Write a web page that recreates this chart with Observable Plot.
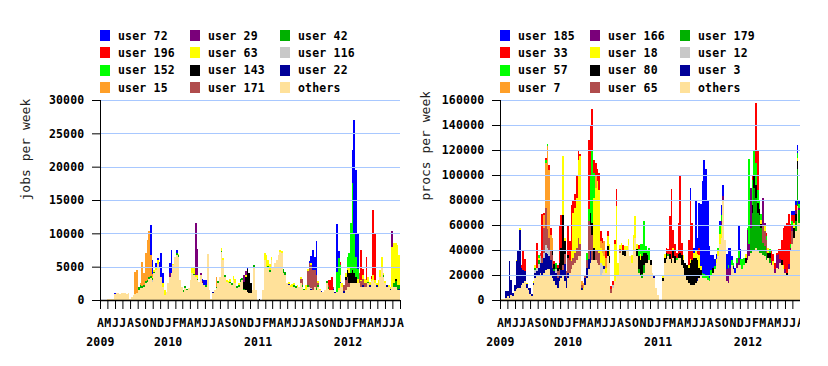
<!DOCTYPE html>
<html><head><meta charset="utf-8">
<script src="https://cdn.jsdelivr.net/npm/d3@7"></script>
<script src="https://cdn.jsdelivr.net/npm/@observablehq/plot@0.6"></script>
<style>
html,body{margin:0;padding:0;background:#fff;}
body{width:828px;height:366px;position:relative;overflow:hidden;}
.panel{position:absolute;top:0;}
.legendBox{position:relative;height:92px;}
.legend{position:absolute;top:27px;display:grid;grid-template-rows:repeat(4,17.3px);grid-auto-flow:column;grid-template-columns:90px 90px 90px;}
.item{display:flex;align-items:center;font:bold 11.5px "DejaVu Sans Mono",monospace;letter-spacing:0.2px;color:#000;white-space:nowrap;}
.sw{width:10px;height:11px;margin-right:8px;flex:none;}
svg text{letter-spacing:0.2px;}
svg g[aria-label="text"] text{letter-spacing:0;}
</style>
</head><body>
<div class="panel" id="p1" style="left:0;width:414px"></div>
<div class="panel" id="p2" style="left:414px;width:414px"></div>
<script>
// ---------- shared ----------
const monthLetters = ["J","F","M","A","M","J","J","A","S","O","N","D"];
const startDate = new Date(Date.UTC(2009, 3, 1));
const endDate = new Date(Date.UTC(2012, 7, 1));
const yearTickDates = [new Date(Date.UTC(2009,3,1)), new Date(Date.UTC(2010,0,1)), new Date(Date.UTC(2011,0,1)), new Date(Date.UTC(2012,0,1))];

// ---------- left panel: jobs per week (weekly, week 0 = 2009-04-01) ----------
const jobsNames = ["user 72","user 196","user 152","user 15","user 29","user 63","user 143","user 171","user 42","user 116","user 22","others"];
const jobsColors = ["#0000ff","#ff0000","#00ff00","#ff9f28","#7a007a","#ffff00","#000000","#b04c4c","#00b000","#c8c8c8","#000099","#ffe19a"];
const jobsTicks = [0,5000,10000,15000,20000,25000,30000];
const jobsOthers = [
0,0,0,0,150,150,150,150,900,1000,
1100,900,1000,1100,1000,900,1000,100,500,750,
900,1000,1500,1750,1750,2000,2500,2750,3100,3250,
2750,4000,4500,5400,4750,3500,2000,750,1250,2500,
3500,4000,5250,6500,6750,6500,3000,2000,1250,1750,
1500,1750,3000,4000,3750,3400,3000,2750,3750,2500,
2250,2000,6900,1500,200,1000,1500,1800,2500,3500,
7200,6000,3500,2750,2500,2500,2250,3000,2500,1750,
2000,2750,3000,1500,1500,1200,1000,1000,1500,5000,
1500,0,0,0,1500,6000,5000,4750,4250,6000,
4750,5500,6000,6750,7200,7000,4000,3750,2500,2250,
2000,2000,2000,1750,2000,2000,2500,2000,1500,1500,
2000,2000,1500,1500,2000,1500,2000,1500,1250,1250,
1500,2500,1700,1500,1500,1500,1000,1200,1500,2500,
2000,1000,1500,2000,2000,2500,2500,2500,2500,2500,
2500,2000,2000,2000,2000,2500,2000,2800,3000,2500,
2000,2000,3500,5000,3500,2500,2000,2000,1500,2000,
2000,2000,1500,1500];
const jobsU72 = [[8,150],[29,4500],[30,2000],[32,500],[33,300],[34,1000],[35,3500],[36,1500],[40,1500],[41,3500],[44,450],[59,400],[60,800],[61,800],[85,200],[121,300],[122,1000],[123,3000],[124,2000],[125,5000],[137,7200],[138,1000],[146,5000],[147,17000],[148,13000],[149,5500]];
const jobsU196 = [[132,800],[133,1500],[134,2000],[139,500],[151,4500],[152,1000],[154,3500],[157,500],[158,9800],[159,7000]];
const jobsU152 = [[137,3000],[138,4500],[139,1500],[143,1500],[144,2000],[145,7500],[146,13000],[147,6000],[148,3000],[149,1500]];
const jobsU15 = [[20,3300],[21,3500],[23,300],[24,3600],[25,1700],[26,4200],[27,5950],[28,6900],[29,3200],[30,500],[67,1500]];
const jobsU29 = [[40,500],[55,7900],[56,4000],[58,300],[59,300],[83,1000],[84,500],[169,2400]];
const jobsU63 = [[30,200],[31,300],[32,500],[33,600],[36,500],[37,800],[42,200],[45,200],[53,1000],[54,800],[55,300],[56,500],[70,400],[71,300],[73,300],[74,300],[75,400],[77,600],[78,600],[80,300],[84,300],[95,1000],[96,1800],[97,1000],[98,800],[99,500],[104,300],[105,300],[109,200],[110,300],[111,400],[112,300],[114,300],[116,300],[119,800],[120,300],[122,300],[126,200],[127,200],[138,300],[139,1000],[140,500],[142,500],[143,500],[144,1000],[149,500],[151,200],[152,500],[153,700],[154,500],[155,800],[156,500],[157,300],[158,700],[159,500],[160,400],[161,1000],[162,1000],[163,1500],[164,300],[165,300],[167,300],[168,200],[169,6000],[170,6000],[171,5500],[172,6000],[173,4500]];
const jobsU143 = [[83,1000],[84,2000],[85,3500],[86,3000],[87,1500],[92,100],[142,500],[143,1000],[144,1500],[145,1500],[146,2000],[147,1500],[148,1000],[171,300]];
const jobsU171 = [[116,700],[117,1000],[120,2000],[121,3500],[122,3500],[123,3000],[124,2500],[125,2000],[126,300],[132,300],[135,300],[141,1000],[142,1500],[143,1500],[144,500],[150,1500],[151,800],[152,1000],[153,500],[154,500]];
const jobsU42 = [[22,500],[23,500],[24,300],[25,300],[26,300],[27,300],[28,400],[29,300],[30,300],[31,200],[44,300],[45,200],[48,200],[49,300],[50,200],[54,200],[56,200],[61,200],[67,200],[68,300],[70,200],[72,300],[75,200],[76,300],[79,300],[80,300],[81,400],[82,300],[83,200],[89,200],[97,300],[98,300],[106,600],[107,400],[112,200],[113,300],[117,200],[118,200],[120,300],[125,300],[126,300],[131,300],[132,200],[155,200],[164,300],[170,500],[171,800],[172,800],[173,500]];
const jobsU116 = [[30,200],[122,100]];
const jobsU22 = [[9,100],[65,200],[109,200],[122,200],[128,100],[135,200],[136,200],[139,200],[141,300],[149,100],[152,200],[156,200],[160,200],[166,200],[168,200],[173,200]];

// ---------- right panel: procs per week, in thousands ----------
const procsNames = ["user 185","user 33","user 57","user 7","user 166","user 18","user 80","user 65","user 179","user 12","user 3","others"];
const procsColors = jobsColors;
const procsTicks = [0,20000,40000,60000,80000,100000,120000,140000,160000];
const procsOthersK = [
0.5,0.5,1,2,3,2,4,3,7,9,
10,10,12,14,15,10,8,5,3,12,
18,20,20,22,20,22,24,25,25,20,
18,15,12,10,15,18,20,15,10,18,
22,25,28,30,32,35,35,8,8,12,
18,25,30,32,32,32,30,28,20,22,
25,22,35,30,6,10,15,20,20,38,
40,36,35,40,44,35,30,40,50,35,
22,20,18,22,30,30,32,28,22,18,
10,4,0,0,15,30,33,35,33,30,
34,30,32,34,34,28,26,20,16,14,
12,12,12,14,15,18,20,18,18,18,
16,15,20,22,25,30,35,45,50,80,
48,15,14,20,28,25,22,26,28,28,
25,28,30,32,35,38,40,40,42,40,
38,38,36,35,32,34,30,28,28,22,
26,25,30,28,25,22,20,25,40,45,
50,55,75,62];
const procsU185 = [[110,10],[112,4],[113,40],[114,10],[115,36],[116,50],[117,73],[118,91],[119,85],[120,60],[121,25],[122,12],[123,10],[124,6],[125,4],[127,4],[128,8],[129,9],[131,12],[132,14],[133,16],[134,3],[136,4],[138,20],[139,8],[169,3],[170,3],[171,4],[172,6],[173,2]];
const procsU33 = [[12,2],[13,16],[14,10],[21,20],[24,35],[25,2],[26,2],[28,4],[29,6],[31,2],[33,2],[34,30],[35,26],[39,24],[40,15],[41,37],[42,10],[43,11],[44,18],[45,8],[46,2],[51,55],[52,40],[53,33],[54,10],[55,10],[56,10],[57,14],[58,8],[59,4],[61,6],[62,4],[64,2],[65,3],[66,3],[67,14],[71,4],[80,3],[96,4],[97,4],[98,30],[99,56],[100,14],[101,10],[102,4],[103,25],[104,62],[105,10],[109,20],[110,47],[111,30],[114,3],[115,6],[146,4],[148,48],[149,32],[154,3],[157,8],[158,6],[159,5],[160,2],[161,4],[162,8],[163,16],[164,30],[165,35],[166,40],[167,40],[168,16],[169,5],[170,6],[171,4]];
const procsU57 = [[22,2],[26,2],[27,2],[32,2],[50,6],[51,10],[52,30],[53,58],[54,20],[80,6],[81,8],[82,10],[83,25],[84,5],[85,3],[86,10],[102,2],[117,4],[118,3],[119,2],[120,4],[121,3],[122,4],[124,2],[126,2],[127,6],[128,5],[132,2],[134,4],[135,3],[137,4],[138,6],[139,5],[140,8],[141,6],[143,2],[144,68],[146,20],[147,20],[148,18],[149,10],[150,7],[151,5],[154,3],[156,3],[168,3],[169,4],[172,4],[173,3]];
const procsU7 = [[25,10],[26,36],[27,66],[28,54],[29,12],[30,10],[47,3],[48,4],[55,10],[58,5],[59,8],[60,12],[61,8]];
const procsU166 = [[128,3],[129,3],[131,10],[132,12],[133,6],[137,4],[138,6],[143,24],[144,10],[145,32],[152,22],[153,3],[157,3],[159,3],[160,10],[161,12],[162,3],[165,3],[167,4],[168,2],[169,4],[171,3],[173,2]];
const procsU18 = [[9,1],[11,2],[15,1],[19,1],[20,2],[22,2],[36,47],[37,3],[41,8],[42,36],[43,36],[44,40],[45,62],[46,70],[48,2],[54,40],[55,50],[56,55],[57,50],[58,12],[59,10],[60,8],[61,4],[62,8],[63,10],[66,30],[67,55],[68,10],[69,3],[70,6],[72,4],[73,3],[74,5],[76,6],[77,12],[78,17],[79,4],[81,5],[94,2],[95,3],[100,2],[106,4],[109,2],[110,3],[112,4],[113,5],[114,5],[115,10],[116,3],[125,3],[126,5],[127,8],[128,10],[142,3],[151,3],[153,4],[155,4],[158,3],[164,3],[170,4],[172,3]];
const procsU80 = [[30,4],[31,4],[33,3],[34,5],[35,18],[36,40],[37,10],[39,2],[52,10],[53,10],[54,10],[62,8],[63,5],[71,4],[72,4],[79,6],[80,10],[81,12],[82,14],[83,10],[84,8],[85,6],[87,4],[94,3],[95,4],[96,5],[98,4],[99,3],[100,6],[101,5],[103,3],[104,4],[105,8],[106,6],[107,10],[108,12],[109,12],[110,18],[111,20],[112,22],[113,20],[114,14],[115,8],[116,4],[123,4],[142,4],[146,6],[147,10],[148,10],[149,8],[150,5],[151,3],[155,4],[156,4],[163,4],[166,2],[170,8],[171,6],[172,6]];
const procsU65 = [[23,3],[24,4],[25,20],[26,30],[27,15],[28,10],[29,8],[30,10],[33,5],[34,5],[36,4],[37,8],[38,5],[39,12],[40,10],[41,6],[42,6],[43,8],[44,10],[45,15],[46,10],[47,2],[49,2],[50,6],[51,30],[52,20],[53,20],[55,8],[56,10],[57,10],[64,3],[69,3],[152,14],[153,12],[154,10],[169,10]];
const procsU179 = [[20,2],[22,3],[31,2],[32,3],[80,3],[82,3],[83,6],[97,2],[145,20],[146,30],[147,50],[148,40],[149,30],[150,30],[151,20],[152,10],[153,8],[154,6],[156,4],[171,8],[172,30],[173,10]];
const procsU12 = [[20,2],[21,3],[22,3],[23,5],[25,4],[26,6],[27,5],[28,5],[32,3],[58,10],[59,6],[65,2]];
const procsU3 = [[3,5],[4,4],[5,29],[6,12],[7,3],[8,5],[9,22],[10,30],[11,46],[12,14],[13,10],[14,8],[15,3],[16,2],[17,5],[18,2],[19,2],[20,4],[21,3],[22,6],[23,8],[24,10],[25,12],[26,14],[27,12],[28,10],[29,12],[30,8],[31,8],[32,10],[33,8],[34,5],[35,6],[36,4],[37,14],[38,8],[39,4],[47,2],[49,6],[50,8],[51,8],[52,10],[60,2],[89,1],[114,3],[135,2]];

// ---------- build tables ----------
function weekStart(i){ return d3.utcDay.offset(startDate, 7*i); }
function buildRows(othersArr, userLists, names, unit){
  const rows = [];
  othersArr.forEach((v,i)=>rows.push({i, series:"others", value:v*unit}));
  userLists.forEach((pairs,k)=>pairs.forEach(([i,v])=>rows.push({i, series:names[k], value:v*unit})));
  return rows.filter(r=>r.value>0).map(r=>({...r, start:weekStart(r.i), end:weekStart(r.i+1)}));
}
const jobsRows = buildRows(jobsOthers,[jobsU72,jobsU196,jobsU152,jobsU15,jobsU29,jobsU63,jobsU143,jobsU171,jobsU42,jobsU116,jobsU22],jobsNames,1);
const procsRows = buildRows(procsOthersK,[procsU185,procsU33,procsU57,procsU7,procsU166,procsU18,procsU80,procsU65,procsU179,procsU12,procsU3],procsNames,1000);

function legend(names, colors, left){
  const box = document.createElement("div"); box.className="legendBox";
  const g = document.createElement("div"); g.className="legend"; g.style.left=left+"px";
  names.forEach((n,k)=>{
    const it=document.createElement("div"); it.className="item";
    const sw=document.createElement("span"); sw.className="sw"; sw.style.background=colors[k];
    const t=document.createElement("span"); t.textContent=n;
    it.append(sw,t); g.append(it);
  });
  box.append(g); return box;
}

function chart(rows, names, colors, ticks, label, width, marginLeft, marginRight){
  const stackOrder = names.slice().reverse();
  const monthTicks = d3.utcMonth.range(startDate, d3.utcDay.offset(endDate,1));
  return Plot.plot({
    width, height:274, marginLeft, marginRight, marginTop:8, marginBottom:66,
    x:{type:"utc", domain:[startDate,endDate]},
    y:{domain:[ticks[0],ticks[ticks.length-1]]},
    color:{domain:names, range:colors},
    style:{fontFamily:"'DejaVu Sans Mono', monospace", fontSize:"11.5px", fontWeight:"bold", background:"white", overflow:"hidden", color:"#000"},
    marks:[
      Plot.rectY(rows,{x1:"start", x2:"end", y:"value", fill:"series", order:stackOrder, shapeRendering:"crispEdges"}),
      Plot.gridY(ticks.slice(1),{stroke:"#a8c8ff", strokeOpacity:1, shapeRendering:"crispEdges"}),
      Plot.ruleX([startDate],{stroke:"#000"}),
      Plot.ruleY([0],{stroke:"#000", strokeWidth:1.5}),
      Plot.axisY({ticks, tickSize:8, tickPadding:8, tickFormat:d=>String(d), label:null}),
      Plot.axisX({ticks:monthTicks, tickFormat:d=>monthLetters[d.getUTCMonth()], tickSize:9, tickPadding:9, label:null}),
      Plot.axisX({ticks:yearTickDates, tickFormat:d=>String(d.getUTCFullYear()), tickSize:0, tickPadding:37, label:null}),
      Plot.text([label],{frameAnchor:"left", rotate:-90, dx:-75, fontSize:13, fontWeight:"normal", fill:"#222"})
    ]
  });
}

const p1=document.getElementById("p1");
p1.append(legend(jobsNames,jobsColors,100));
p1.append(chart(jobsRows,jobsNames,jobsColors,jobsTicks,"jobs per week",414,100,14));
const p2=document.getElementById("p2");
p2.append(legend(procsNames,procsColors,86));
p2.append(chart(procsRows,procsNames,procsColors,procsTicks,"procs per week",386,86,0));
</script>
</body></html>
